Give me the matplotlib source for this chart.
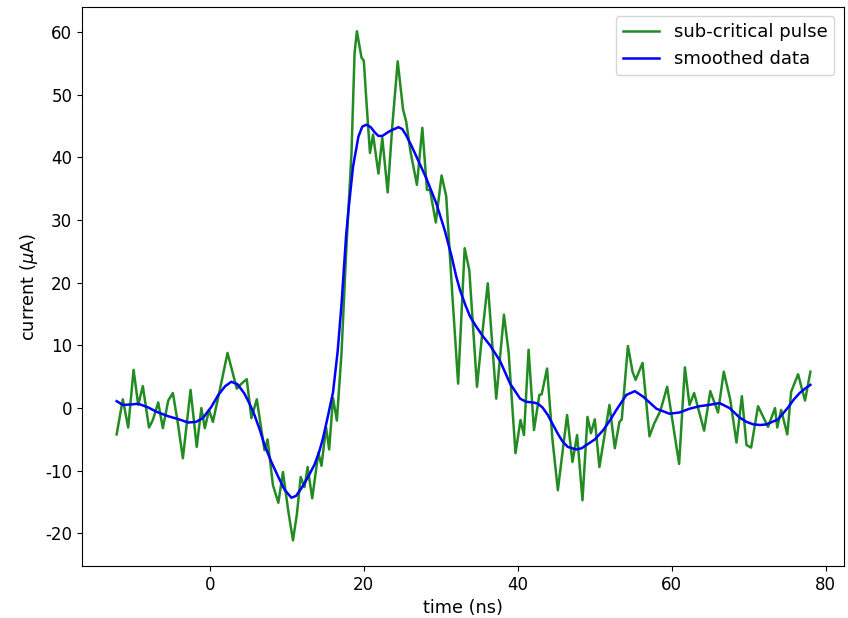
import matplotlib
matplotlib.use("Agg")
import matplotlib.pyplot as plt

plt.rcParams['axes.unicode_minus'] = False

pulse_t = [-12.1, -11.3, -10.6, -9.9, -9.3, -8.7, -7.9, -7.4, -6.7, -6.1, -5.4, -4.8, -4.2, -3.5,
           -2.5, -1.7, -1.1, -0.65, -0.1, 0.4, 1.3, 2.3, 3.0, 3.5, 4.2, 4.8, 5.4, 6.1, 7.1, 7.5,
           8.2, 8.9, 9.5, 10.2, 10.8, 11.3, 11.8, 12.3, 12.7, 13.3, 14.1, 14.5, 15.1, 15.5, 16.0,
           16.5, 17.1, 17.7, 18.4, 18.8, 19.1, 19.7, 20.0, 20.35, 20.8, 21.2, 21.9, 22.4, 23.1,
           23.7, 24.4, 25.1, 25.5, 26.05, 26.9, 27.6, 28.2, 28.6, 29.35, 30.1, 30.7, 31.5, 32.25,
           33.1, 33.7, 34.7, 35.3, 36.1, 37.2, 38.2, 38.8, 39.7, 40.35, 40.8, 41.4, 42.1, 42.8,
           43.1, 43.8, 44.5, 45.2, 46.4, 47.1, 47.7, 48.4, 49.05, 49.5, 50.0, 50.6, 51.9, 52.6,
           53.2, 53.5, 54.3, 54.9, 55.3, 56.2, 57.1, 57.7, 58.5, 59.4, 60.95, 61.7, 62.3, 62.9,
           64.2, 65.0, 66.0, 66.75, 67.6, 68.4, 69.1, 69.7, 70.3, 71.2, 72.5, 73.4, 73.7, 74.2,
           75.0, 75.5, 76.4, 77.3, 78.0]
pulse_v = [-4.2, 1.4, -3.1, 6.1, 0.5, 3.5, -3.1, -1.9, 0.9, -3.2, 1.2, 2.4, -2.0, -8.0,
           2.9, -6.2, 0.0, -3.2, -0.3, -2.2, 2.9, 8.8, 5.5, 3.1, 4.0, 4.6, -1.6, 1.4, -6.7, -5.0,
           -12.3, -15.1, -10.2, -16.5, -21.1, -17.0, -11.0, -12.6, -9.4, -14.4, -7.1, -9.2, -3.1, -6.6, 1.6,
           -2.0, 8.7, 24.7, 40.7, 56.6, 60.1, 55.9, 55.4, 48.7, 40.7, 43.6, 37.4, 43.1, 34.4,
           45.0, 55.3, 47.6, 45.7, 41.0, 35.6, 44.7, 34.8, 34.8, 29.6, 37.1, 33.8, 18.0, 3.9,
           25.5, 22.0, 3.4, 10.9, 19.9, 1.5, 14.9, 9.0, -7.2, -1.9, -4.3, 9.3, -3.5, 2.1,
           2.2, 6.3, -5.0, -13.1, -1.1, -8.6, -4.3, -14.7, -1.4, -4.0, -1.8, -9.4, 0.5, -6.4,
           -2.2, -1.8, 9.9, 5.8, 4.5, 7.2, -4.5, -2.5, -0.5, 3.4, -8.9, 6.5, 0.5, 2.4,
           -3.6, 2.7, -0.7, 5.8, 1.3, -5.5, 1.9, -5.9, -6.3, 0.3, -3.0, 0.0, -3.1, -0.3,
           -4.2, 2.6, 5.4, 1.2, 5.8]

smooth_t = [-12.1, -11.3, -10.0, -9.3, -8.0, -6.9, -5.4, -4.0, -2.8, -1.8, -0.9, 0.2, 1.1, 2.0,
            2.8, 3.6, 4.5, 5.2, 5.8, 6.5, 7.1, 8.0, 8.9, 9.7, 10.6, 11.2, 12.0, 12.8, 13.6, 14.2,
            14.7, 15.3, 16.0, 16.6, 17.1, 17.7, 18.0, 18.6, 19.3, 19.8, 20.35, 20.9, 21.4, 21.9,
            22.4, 23.4, 24.5, 25.0, 25.5, 26.2, 26.8, 28.1, 29.4, 30.5, 31.4, 32.0, 32.5, 33.2,
            33.8, 34.6, 35.5, 36.4, 37.7, 39.0, 40.3, 41.1, 42.0, 42.6, 43.2, 43.9, 44.5, 45.2,
            45.8, 46.5, 47.6, 48.3, 48.9, 50.0, 51.1, 52.0, 52.8, 53.5, 54.1, 55.2, 56.3, 57.2,
            58.0, 59.7, 61.0, 62.3, 63.6, 64.8, 66.2, 67.5, 68.8, 69.7, 70.6, 71.5, 72.3, 73.8,
            75.1, 75.8, 76.6, 77.3, 78.0]
smooth_v = [1.1, 0.5, 0.6, 0.7, 0.1, -0.6, -1.3, -1.8, -2.3, -2.2, -1.6, 0.2, 2.1, 3.5,
            4.2, 3.8, 2.3, 0.6, -1.1, -3.5, -5.9, -8.6, -11.0, -13.0, -14.3, -14.0, -12.6, -10.9, -9.0, -7.0,
            -4.8, -1.5, 2.5, 9.0, 16.5, 27.5, 31.5, 38.5, 43.3, 44.9, 45.2, 44.8, 44.0, 43.4,
            43.4, 44.2, 44.8, 44.5, 43.5, 41.8, 40.2, 36.7, 32.7, 28.4, 24.2, 21.0, 18.8, 16.4,
            14.6, 13.0, 11.4, 10.0, 7.5, 3.9, 1.5, 1.0, 0.9, 0.7, 0.1, -1.1, -2.5, -4.1,
            -5.3, -6.2, -6.6, -6.4, -5.9, -5.0, -3.5, -1.9, -0.3, 1.0, 2.1, 2.7, 1.8, 0.8,
            -0.1, -0.9, -0.7, -0.1, 0.3, 0.5, 0.8, 0.0, -1.5, -2.2, -2.6, -2.7, -2.6, -1.8,
            0.1, 1.3, 2.4, 3.1, 3.7]

x_ticks = [0, 20, 40, 60, 80]
y_ticks = [-20, -10, 0, 10, 20, 30, 40, 50, 60]

fig = plt.figure(figsize=(8.48, 6.18), dpi=100)
ax = fig.add_axes([0.0967, 0.084, 0.898, 0.905])
ax.plot(pulse_t, pulse_v, color='forestgreen', lw=1.8, label='sub-critical pulse',
        solid_joinstyle='round')
ax.plot(smooth_t, smooth_v, color='blue', lw=1.8, label='smoothed data',
        solid_joinstyle='round')
ax.set_xlim(-16.6, 82.3)
ax.set_ylim(-25.2, 64)
ax.set_xticks(x_ticks)
ax.set_yticks(y_ticks)
ax.tick_params(labelsize=12)
ax.set_xlabel('time (ns)', fontsize=12.8)
ax.set_ylabel(r'current ($\mu$A)', fontsize=12.8)
ax.legend(loc='upper right', fontsize=13)
fig.savefig('out.png', dpi=100)
